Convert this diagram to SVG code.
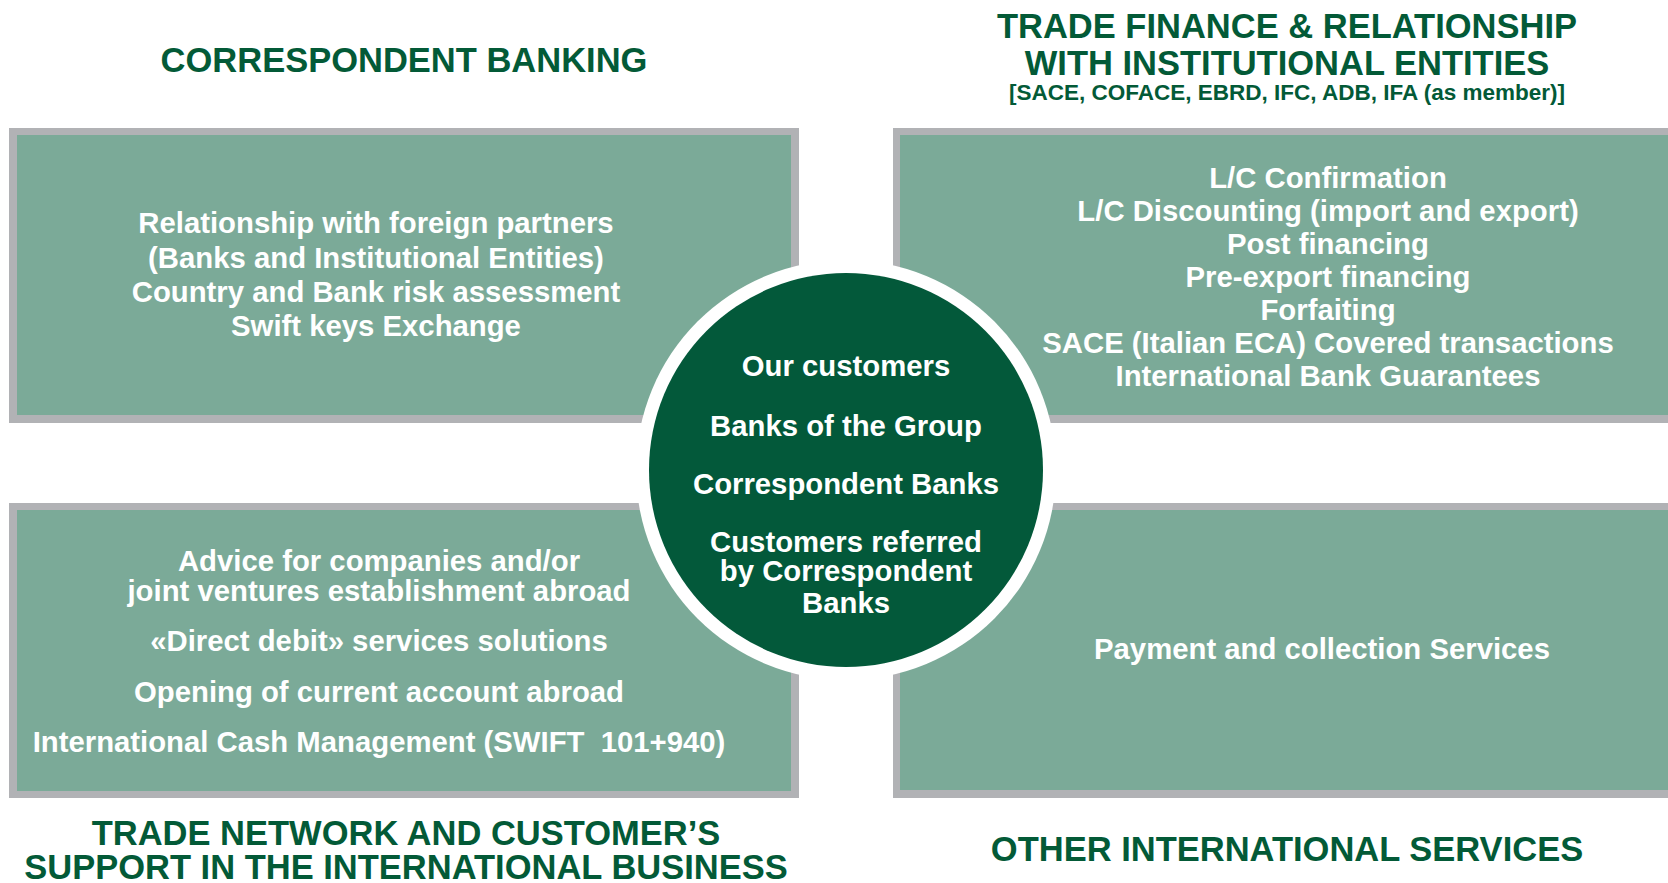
<svg xmlns="http://www.w3.org/2000/svg" width="1668" height="883" viewBox="0 0 1668 883">
<style>
.frame{fill:#B1B2B5}
.panel{fill:#7BAA98}
.title{font-family:"Liberation Sans",Arial,sans-serif;font-weight:bold;font-size:34.5px;fill:#035A37;text-anchor:middle}
.sub{font-size:22.5px}
.body{font-family:"Liberation Sans",Arial,sans-serif;font-weight:bold;font-size:29.3px;fill:#FFFFFF;text-anchor:middle}
</style>
<rect width="1668" height="883" fill="#FFFFFF"/>
<g id="correspondent-banking">
  <rect class="frame" x="9" y="128" width="790" height="295"/>
  <rect class="panel" x="17" y="135" width="774" height="280"/>
  <text class="title" x="404" y="72">CORRESPONDENT BANKING</text>
  <text class="body" x="376" y="233">Relationship with foreign partners</text>
  <text class="body" x="376" y="268">(Banks and Institutional Entities)</text>
  <text class="body" x="376" y="302">Country and Bank risk assessment</text>
  <text class="body" x="376" y="336">Swift keys Exchange</text>
</g>
<g id="trade-finance">
  <rect class="frame" x="893" y="128" width="785" height="295"/>
  <rect class="panel" x="900" y="135" width="778" height="280"/>
  <text class="title" x="1287" y="38">TRADE FINANCE &amp; RELATIONSHIP</text>
  <text class="title" x="1287" y="75">WITH INSTITUTIONAL ENTITIES</text>
  <text class="title sub" x="1287" y="100">[SACE, COFACE, EBRD, IFC, ADB, IFA (as member)]</text>
  <text class="body" x="1328" y="188">L/C Confirmation</text>
  <text class="body" x="1328" y="221">L/C Discounting (import and export)</text>
  <text class="body" x="1328" y="254">Post financing</text>
  <text class="body" x="1328" y="287">Pre-export financing</text>
  <text class="body" x="1328" y="320">Forfaiting</text>
  <text class="body" x="1328" y="353">SACE (Italian ECA) Covered transactions</text>
  <text class="body" x="1328" y="386">International Bank Guarantees</text>
</g>
<g id="trade-network">
  <rect class="frame" x="9" y="503" width="790" height="295"/>
  <rect class="panel" x="17" y="510" width="774" height="281"/>
  <text class="title" x="406" y="845">TRADE NETWORK AND CUSTOMER’S</text>
  <text class="title" x="406" y="879">SUPPORT IN THE INTERNATIONAL BUSINESS</text>
  <text class="body" x="379" y="571">Advice for companies and/or</text>
  <text class="body" x="379" y="601">joint ventures establishment abroad</text>
  <text class="body" x="379" y="651">«Direct debit» services solutions</text>
  <text class="body" x="379" y="702">Opening of current account abroad</text>
  <text class="body" x="379" y="752" xml:space="preserve">International Cash Management (SWIFT  101+940)</text>
</g>
<g id="other-services">
  <rect class="frame" x="893" y="503" width="785" height="295"/>
  <rect class="panel" x="900" y="510" width="778" height="280"/>
  <text class="title" x="1287" y="861">OTHER INTERNATIONAL SERVICES</text>
  <text class="body" x="1322" y="659">Payment and collection Services</text>
</g>
<g id="connectors"></g>
<g id="customers">
  <circle cx="846" cy="470" r="210" fill="#FFFFFF"/>
  <circle cx="846" cy="470" r="197" fill="#03593A"/>
  <text class="body" x="846" y="376">Our customers</text>
  <text class="body" x="846" y="436">Banks of the Group</text>
  <text class="body" x="846" y="494">Correspondent Banks</text>
  <text class="body" x="846" y="552">Customers referred</text>
  <text class="body" x="846" y="581">by Correspondent</text>
  <text class="body" x="846" y="613">Banks</text>
</g>
</svg>
